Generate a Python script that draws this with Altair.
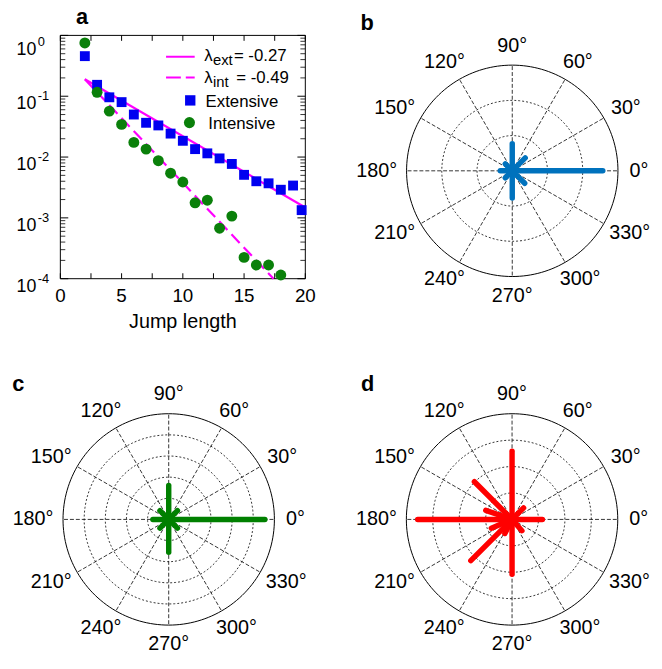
import altair as alt
import pandas as pd

FONT = "Liberation Sans"

# ---------------- panel a : jump length distribution ----------------
EXT_X = [2, 3, 4, 5, 6, 7, 8, 9, 10, 11, 12, 13, 14, 15, 16, 17, 18, 19, 19.7]
EXT_Y = [0.456, 0.154, 0.096, 0.080, 0.050, 0.0366, 0.0331, 0.0243, 0.0185, 0.0135,
         0.0115, 0.0095, 0.0077, 0.0051, 0.0040, 0.0037, 0.0029, 0.0034, 0.00134]
INT_X = [2, 3, 4, 5, 6, 7, 8, 9, 10, 11, 12, 13, 14, 15, 16, 17, 18]
INT_Y = [0.752, 0.116, 0.0568, 0.0344, 0.0174, 0.0135, 0.0087, 0.00543, 0.00389,
         0.00177, 0.00195, 0.000676, 0.00107, 0.000224, 0.000168, 0.000168, 0.000115]
FIT_EXT_X = [2, 20]
FIT_EXT_Y = [0.19, 0.00148]
FIT_INT_X = [2, 17.4]
FIT_INT_Y = [0.19, 0.0001]
LEGEND_TEXT = ["\u03bb", "ext", "= -0.27", "\u03bb", "int", "= -0.49", "Extensive", "Intensive"]
X_TICK_VALUES = [0, 5, 10, 15, 20]
X_MINOR_VALUES = [2.5, 7.5, 12.5, 17.5]
Y_EXPONENTS = [-4, -3, -2, -1, 0]
Y_MINOR_MULT = [2, 3, 4, 5, 6, 7, 8, 9]
X_TITLE = "Jump length"
X_DOMAIN = [0, 20]
Y_DOMAIN = [1e-4, 1]

# ---------------- polar panels b, c, d ----------------
ANGLE_TICKS = [0, 30, 60, 90, 120, 150, 180, 210, 240, 270, 300, 330]
B_RMAX, B_RINGS = 0.3, [0.1, 0.2, 0.3]
B_ANGLES = [0, 45, 90, 135, 180, 225, 270, 315]
B_LENGTHS = [0.257, 0.052, 0.077, 0.028, 0.034, 0.028, 0.077, 0.050]
C_RMAX, C_RINGS = 1.0, [0.2, 0.4, 0.6, 0.8, 1.0]
C_ANGLES = [0, 45, 90, 135, 180, 225, 270, 315]
C_LENGTHS = [0.91, 0.117, 0.32, 0.117, 0.15, 0.117, 0.31, 0.117]
D_RMAX, D_RINGS = 1.0, [0.25, 0.5, 0.75, 1.0]
D_ANGLES = [0, 45, 90, 135, 161, 180, 203, 225, 243, 270, 311]
D_LENGTHS = [0.287, 0.154, 0.645, 0.504, 0.263, 0.893, 0.213, 0.552, 0.15, 0.52, 0.142]
PANEL_LETTERS = ["a", "b", "c", "d"]

W, H = 654, 653
R_PX = 107

# ================= panel a =================
XA = alt.Scale(domain=X_DOMAIN, range=[53, 301], nice=False, zero=False)
YA = alt.Scale(type="log", domain=Y_DOMAIN, range=[270, 23.7], nice=False)


def ax(field):
    return alt.X(field, type="quantitative", scale=XA, axis=None)


def ay(field):
    return alt.Y(field, type="quantitative", scale=YA, axis=None)


frame = alt.Chart(pd.DataFrame({"x0": [X_DOMAIN[0]], "x1": [X_DOMAIN[1]],
                                "y0": [Y_DOMAIN[0]], "y1": [Y_DOMAIN[1]]})).mark_rect(
    fillOpacity=0, stroke="black", strokeWidth=1).encode(
    x=ax("x0"), x2="x1", y=ay("y0"), y2="y1")

xt = pd.DataFrame({"v": X_TICK_VALUES + X_MINOR_VALUES})
tick_bottom = alt.Chart(xt).mark_rule(color="black", strokeWidth=1).encode(
    x=ax("v"), y=alt.value(270), y2=alt.value(264.5))
tick_top = alt.Chart(xt).mark_rule(color="black", strokeWidth=1).encode(
    x=ax("v"), y=alt.value(23.7), y2=alt.value(29.2))

ymaj = pd.DataFrame({"v": [10.0 ** e for e in Y_EXPONENTS]})
ymin = pd.DataFrame({"v": [m * 10.0 ** e for e in Y_EXPONENTS[:-1] for m in Y_MINOR_MULT]})
tick_lmaj = alt.Chart(ymaj).mark_rule(color="black", strokeWidth=1).encode(
    y=ay("v"), x=alt.value(53), x2=alt.value(61))
tick_rmaj = alt.Chart(ymaj).mark_rule(color="black", strokeWidth=1).encode(
    y=ay("v"), x=alt.value(301), x2=alt.value(293))
tick_lmin = alt.Chart(ymin).mark_rule(color="black", strokeWidth=0.8).encode(
    y=ay("v"), x=alt.value(53), x2=alt.value(58))
tick_rmin = alt.Chart(ymin).mark_rule(color="black", strokeWidth=0.8).encode(
    y=ay("v"), x=alt.value(301), x2=alt.value(296))

xlab = alt.Chart(pd.DataFrame({"v": X_TICK_VALUES, "t": [str(v) for v in X_TICK_VALUES]})).mark_text(
    font=FONT, fontSize=19, align="center", baseline="alphabetic", color="black").encode(
    x=ax("v"), y=alt.value(293.5), text="t:N")
xtitle = alt.Chart(pd.DataFrame({"t": [X_TITLE]})).mark_text(
    font=FONT, fontSize=20, align="center", baseline="alphabetic", color="black").encode(
    x=alt.value(177), y=alt.value(320), text="t:N")

ylab_df = pd.DataFrame({"v": [10.0 ** e for e in Y_EXPONENTS], "e": [str(e) for e in Y_EXPONENTS],
                        "base": ["10"] * len(Y_EXPONENTS), "top": [e == 0 for e in Y_EXPONENTS]})
ylab_base = alt.Chart(ylab_df)
ylab_10 = ylab_base.transform_filter("!datum.top").mark_text(
    font=FONT, fontSize=18, align="left", baseline="alphabetic", dy=13, color="black").encode(
    x=alt.value(8.7), y=ay("v"), text="base:N")
ylab_sup = ylab_base.transform_filter("!datum.top").mark_text(
    font=FONT, fontSize=13, align="left", baseline="alphabetic", dy=4, color="black").encode(
    x=alt.value(30), y=ay("v"), text="e:N")
ylab_10t = ylab_base.transform_filter("datum.top").mark_text(
    font=FONT, fontSize=18, align="left", baseline="alphabetic", dy=20, color="black").encode(
    x=alt.value(8.7), y=ay("v"), text="base:N")
ylab_supt = ylab_base.transform_filter("datum.top").mark_text(
    font=FONT, fontSize=13, align="left", baseline="alphabetic", dy=11, color="black").encode(
    x=alt.value(30), y=ay("v"), text="e:N")

fit_ext = alt.Chart(pd.DataFrame({"x": FIT_EXT_X, "y": FIT_EXT_Y})).mark_line(
    color="#ff00ff", strokeWidth=2.2).encode(x=ax("x"), y=ay("y"))
fit_int = alt.Chart(pd.DataFrame({"x": FIT_INT_X, "y": FIT_INT_Y})).mark_line(
    color="#ff00ff", strokeWidth=2.2, strokeDash=[12, 6]).encode(x=ax("x"), y=ay("y"))
pts_ext = alt.Chart(pd.DataFrame({"x": EXT_X, "y": EXT_Y})).mark_point(
    shape="square", filled=True, size=100, color="#0000f0", opacity=1).encode(x=ax("x"), y=ay("y"))
pts_int = alt.Chart(pd.DataFrame({"x": INT_X, "y": INT_Y})).mark_point(
    shape="circle", filled=True, size=122, color="#0a800a", opacity=1).encode(x=ax("x"), y=ay("y"))

one = pd.DataFrame({"k": [0]})
leg_solid = alt.Chart(one).mark_rule(color="#ff00ff", strokeWidth=2).encode(
    x=alt.value(160), x2=alt.value(189), y=alt.value(45.3))
leg_dash = alt.Chart(one).mark_rule(color="#ff00ff", strokeWidth=2, strokeDash=[15, 5]).encode(
    x=alt.value(160), x2=alt.value(189), y=alt.value(66.3))
leg_sq = alt.Chart(one).mark_point(shape="square", filled=True, size=110, color="#0000f0", opacity=1).encode(
    x=alt.value(184.5), y=alt.value(89.5))
leg_ci = alt.Chart(one).mark_point(shape="circle", filled=True, size=125, color="#0a800a", opacity=1).encode(
    x=alt.value(183.7), y=alt.value(112))


def leg_text(i, x, y, size):
    return alt.Chart(pd.DataFrame({"t": [LEGEND_TEXT[i]]})).mark_text(
        font=FONT, fontSize=size, align="left", baseline="alphabetic", color="black").encode(
        x=alt.value(x), y=alt.value(y), text="t:N")


legend_texts = [
    leg_text(0, 198.7, 50, 17), leg_text(1, 207.5, 54, 15), leg_text(2, 228.7, 50, 17),
    leg_text(3, 198.7, 72, 17), leg_text(4, 207.5, 76, 15), leg_text(5, 231, 72, 17),
    leg_text(6, 200, 96, 17), leg_text(7, 202.7, 118, 17),
]


def letter(i, x, y):
    return alt.Chart(pd.DataFrame({"t": [PANEL_LETTERS[i]]})).mark_text(
        font=FONT, fontSize=22, fontWeight="bold", align="center", baseline="alphabetic",
        color="black").encode(x=alt.value(x), y=alt.value(y), text="t:N")


panel_a = alt.layer(
    frame, tick_bottom, tick_top, tick_lmaj, tick_rmaj, tick_lmin, tick_rmin,
    fit_ext, fit_int, pts_ext, pts_int, xlab, xtitle, ylab_10, ylab_sup, ylab_10t, ylab_supt,
    leg_solid, leg_dash, leg_sq, leg_ci, *legend_texts, letter(0, 75, 12.5),
)


# ================= polar panels =================
def polar_panel(cx, cy, rmax, rings, angles, lengths, color, idx, lx, ly):
    xs = alt.Scale(domain=[-rmax, rmax], range=[cx - R_PX, cx + R_PX], nice=False, zero=False)
    ys = alt.Scale(domain=[-rmax, rmax], range=[cy + R_PX, cy - R_PX], nice=False, zero=False)
    k = rmax / R_PX  # data units per pixel

    def px(f):
        return alt.X(f, type="quantitative", scale=xs, axis=None)

    def py(f):
        return alt.Y(f, type="quantitative", scale=ys, axis=None)

    ring_df = pd.DataFrame([{"ring": r, "deg": d} for r in rings for d in range(0, 361, 2)])
    ring_base = alt.Chart(ring_df).transform_calculate(
        x="datum.ring*cos(datum.deg*PI/180)", y="datum.ring*sin(datum.deg*PI/180)")
    inner = ring_base.transform_filter(f"datum.ring < {rmax * 0.999}").mark_line(
        color="black", strokeWidth=0.8, strokeDash=[2, 2]).encode(
        x=px("x"), y=py("y"), detail="ring:N", order="deg:Q")
    outer = ring_base.transform_filter(f"datum.ring >= {rmax * 0.999}").mark_line(
        color="black", strokeWidth=1).encode(
        x=px("x"), y=py("y"), detail="ring:N", order="deg:Q")

    spoke_df = pd.DataFrame({"deg": ANGLE_TICKS, "r": [rmax] * len(ANGLE_TICKS)})
    spokes = alt.Chart(spoke_df).transform_calculate(
        x0="0", y0="0",
        x="datum.r*cos(datum.deg*PI/180)", y="datum.r*sin(datum.deg*PI/180)").mark_rule(
        color="black", strokeWidth=0.8, strokeDash=[4, 2]).encode(
        x=px("x0"), y=py("y0"), x2="x:Q", y2="y:Q")

    stick_df = pd.DataFrame({"deg": angles, "r": lengths})
    sticks = alt.Chart(stick_df).transform_calculate(
        x0="0", y0="0",
        x="datum.r*cos(datum.deg*PI/180)", y="datum.r*sin(datum.deg*PI/180)").mark_rule(
        color=color, strokeWidth=5.5, strokeCap="round").encode(
        x=px("x0"), y=py("y0"), x2="x:Q", y2="y:Q")

    lab_df = pd.DataFrame({"deg": ANGLE_TICKS, "t": [f"{a}\u00b0" for a in ANGLE_TICKS]})
    labels = alt.Chart(lab_df).transform_calculate(
        hw="5.55*(length(datum.t)-1)+4").transform_calculate(
        x=f"cos(datum.deg*PI/180)*(120.4+0.82*datum.hw)*{k}",
        y=f"sin(datum.deg*PI/180)*126.6*{k}").mark_text(
        font=FONT, fontSize=20, align="center", baseline="middle", color="black").encode(
        x=px("x"), y=py("y"), text="t:N")

    return alt.layer(inner, outer, spokes, sticks, labels, letter(idx, lx, ly))


panel_b = polar_panel(510.5, 160.8, B_RMAX, B_RINGS, B_ANGLES, B_LENGTHS, "#0072bd", 1, 363.5, 18)
panel_c = polar_panel(162.7, 513.7, C_RMAX, C_RINGS, C_ANGLES, C_LENGTHS, "#008000", 2, 10.3, 383.7)
panel_d = polar_panel(510.3, 513.7, D_RMAX, D_RINGS, D_ANGLES, D_LENGTHS, "#ff0000", 3, 364, 383.7)

chart = alt.layer(panel_a, panel_b, panel_c, panel_d).resolve_scale(
    x="independent", y="independent").properties(
    width=W, height=H, padding=0, autosize=alt.AutoSizeParams(type="none")).configure_view(stroke=None)

chart.save("out.html", embed_options={"renderer": "svg", "actions": False})
